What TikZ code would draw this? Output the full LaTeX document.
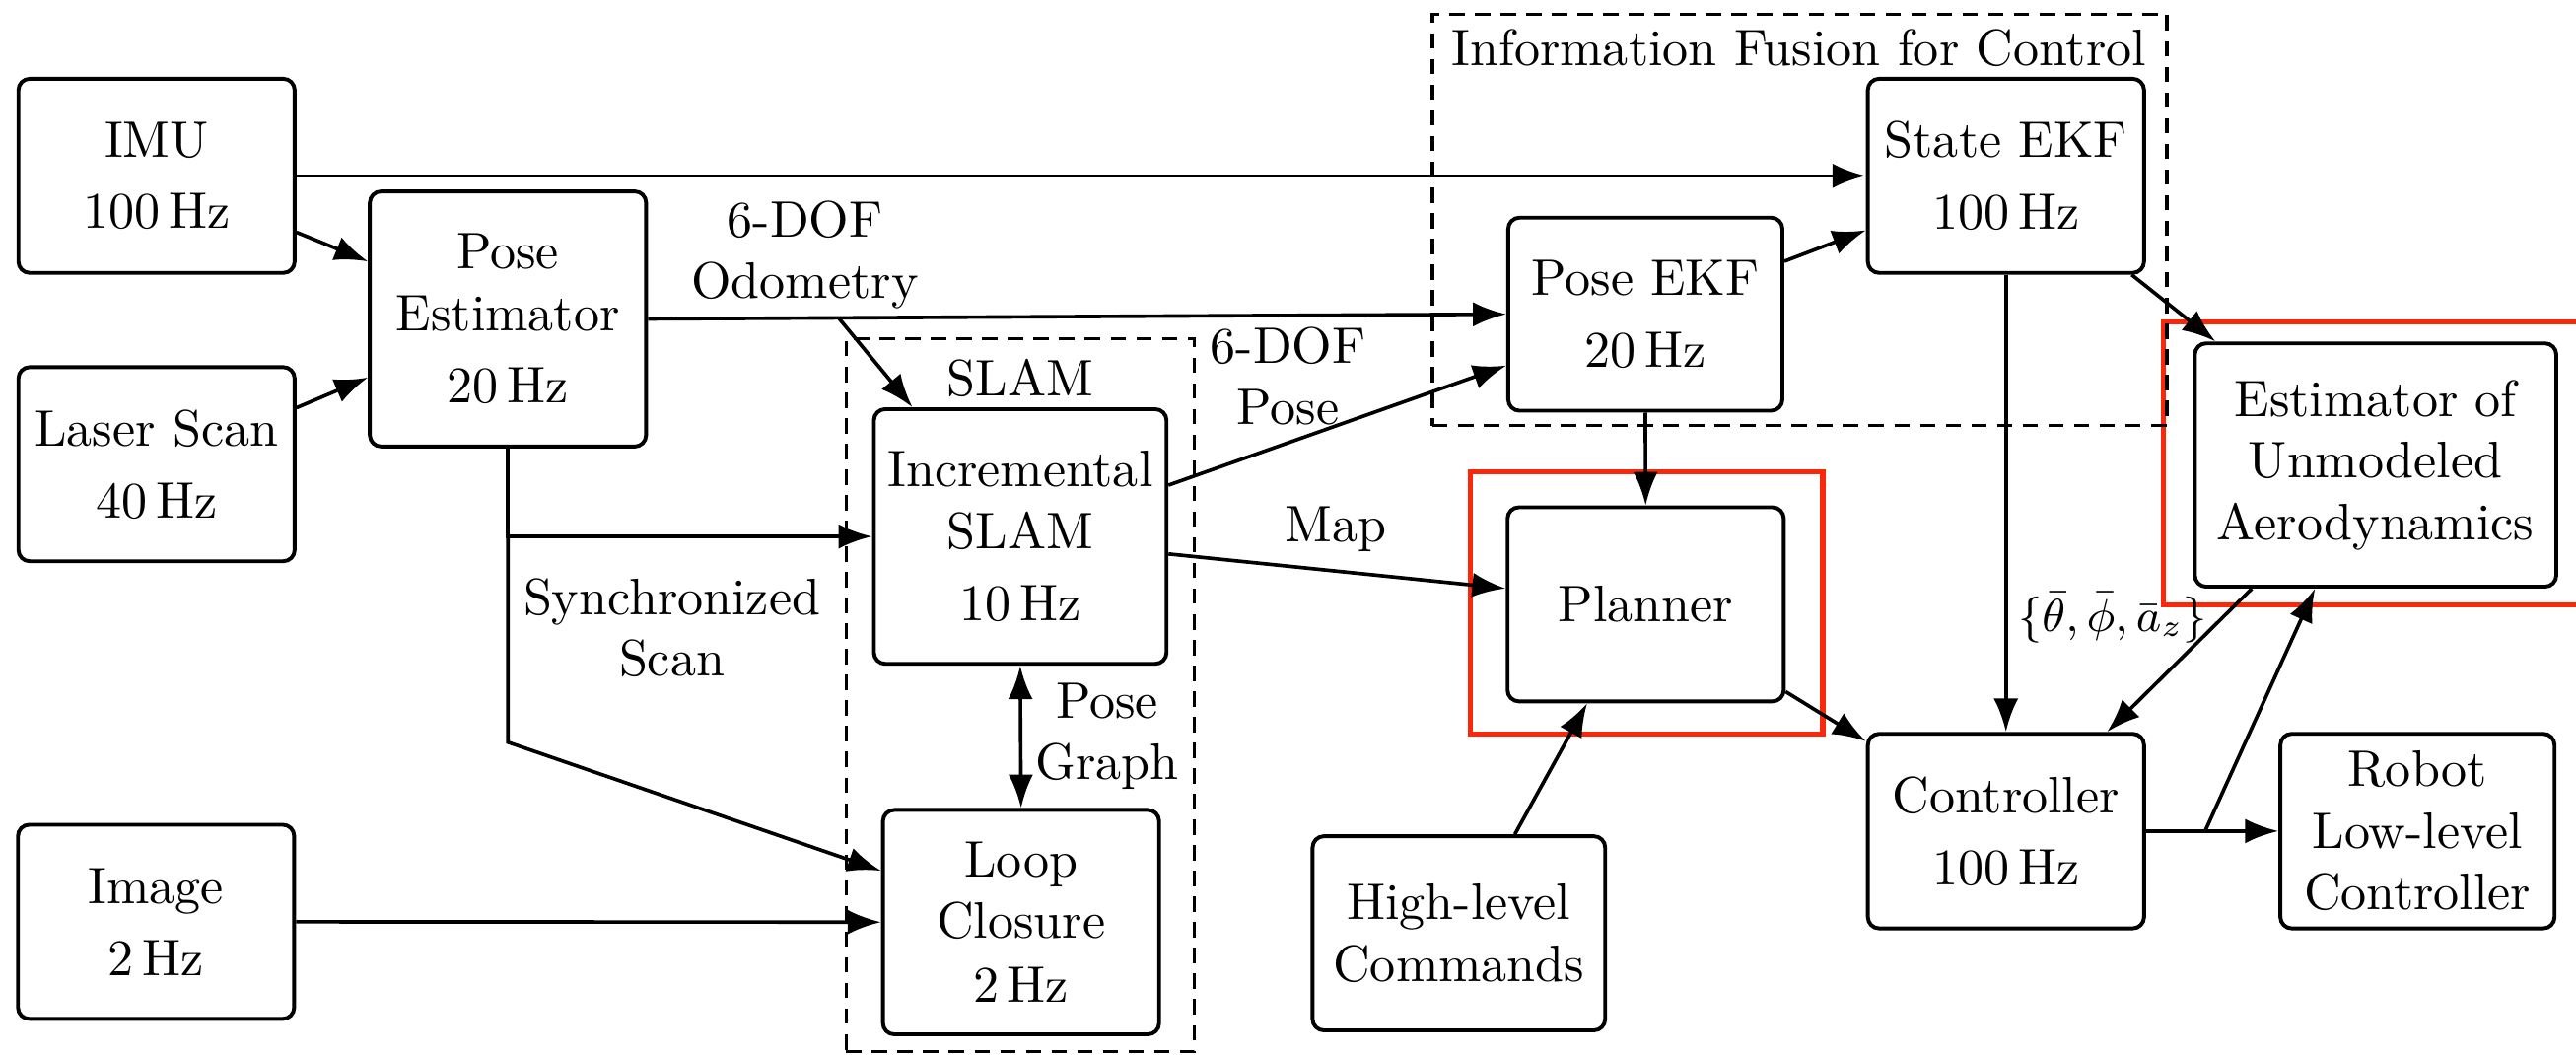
\documentclass[tikz,border=0pt]{standalone}
\usetikzlibrary{arrows.meta,calc}
\definecolor{hilite}{RGB}{250,40,10}
\begin{document}
\begin{tikzpicture}[x=0.32pt,y=-0.32pt,
  block/.style={draw, line width=0.75pt, rounded corners=2.2pt, align=center,
    minimum width=53.8pt, minimum height=37.8pt, inner sep=2pt},
  conn/.style={line width=0.7pt, -{Latex[length=6.5pt,width=4.8pt]}},
  biconn/.style={line width=0.7pt, {Latex[length=6.5pt,width=4.8pt]}-{Latex[length=6.5pt,width=4.8pt]}},
  groupbox/.style={draw, line width=0.65pt, dash pattern=on 3pt off 2pt,
    inner sep=0pt, minimum width=#1},
  hl/.style={draw=hilite, line width=1pt},
  lbl/.style={align=center, inner sep=1pt}
]
\useasboundingbox (0,0) rectangle (1568,642);

% highlight frames
\draw[hl] (895,287) rectangle (1109.5,446.6);
\draw[hl] (1317,196) rectangle (1590,368);

% dashed groups
\node[groupbox=67.8pt, minimum height=138.9pt] (slamgrp) at (621,423) {};
\node[groupbox=143.1pt, minimum height=80.1pt] (fusiongrp) at (1095.4,133.8) {};
\node (slamlbl) at (621,230) {SLAM};
\node (fusionlbl) at (1095,29) {Information Fusion for Control};

% blocks
\node[block] (imu) at (95.3,107) {IMU\\[2pt]100\,Hz};
\node[block] (laser) at (95.3,282.5) {Laser Scan\\[2pt]40\,Hz};
\node[block] (image) at (95,561) {Image\\[2pt]2\,Hz};
\node[block, minimum height=49.7pt] (pose) at (309.2,194.1) {Pose\\Estimator\\[2pt]20\,Hz};
\node[block, minimum width=57pt, minimum height=49.6pt] (islam) at (621,326.5) {Incremental\\SLAM\\[2pt]10\,Hz};
\node[block, minimum height=43.7pt] (loop) at (621.5,561.2) {Loop\\Closure\\[0.5pt]2\,Hz};
\node[block, minimum width=53.4pt, minimum height=37.6pt] (pekf) at (1001.5,191.2) {Pose EKF\\[2pt]20\,Hz};
\node[block] (sekf) at (1221,107) {State EKF\\[2pt]100\,Hz};
\node[block] (planner) at (1001.7,367.8) {Planner};
\node[block, minimum width=57pt] (hlc) at (888,568) {High-level\\Commands};
\node[block, minimum height=37.9pt] (ctrl) at (1221,505.8) {Controller\\[2pt]100\,Hz};
\node[block, minimum width=53.4pt, minimum height=37.9pt] (robot) at (1471.5,505.8) {Robot\\Low-level\\Controller};
\node[block, minimum width=70.4pt, minimum height=47.4pt] (est) at (1446,283) {Estimator of\\Unmodeled\\Aerodynamics};

% connectors
\draw[conn] (imu.east) -- (sekf.west);
\draw[conn] ([yshift=-11pt]imu.east) -- ([yshift=11.2pt]pose.west);
\draw[conn] ([yshift=11pt]laser.east) -- ([yshift=-11.4pt]pose.west);

\draw[conn] (pose.east) -- (pekf.west);
\coordinate (odo) at ($(pose.east)!0.222!(pekf.west)$);
\draw[conn] (odo) -- ([xshift=-21pt]islam.north);
\node[lbl] (odolbl) at (490,155) {6-DOF\\Odometry};

\draw[conn] (pose.south) |- (islam.west);
\coordinate (sync) at (pose.south |- islam.west);
\coordinate (bend) at ($(pose.south)+(0,178.8)$);
\draw[conn] (sync) -- (bend) -- ([yshift=10pt]loop.west);
\node[lbl] (synclbl) at (409,382) {Synchronized\\Scan};

\draw[conn] (image.east) -- (loop.west);
\draw[biconn] (islam.south) -- (loop.north);
\node[lbl] (graphlbl) at (674,448) {Pose\\Graph};

\draw[conn] ([yshift=10pt]islam.east) -- ([yshift=-10pt]pekf.west);
\node[lbl] (poselbl) at (784,229) {6-DOF\\Pose};
\draw[conn] ([yshift=-3.4pt]islam.east) -- ([yshift=3.1pt]planner.west);
\node[lbl] (maplbl) at (813,322) {Map};

\draw[conn] (pekf.south) -- (planner.north);
\draw[conn] ([yshift=10.3pt]pekf.east) -- ([yshift=-10.6pt]sekf.west);

\draw[conn] (sekf.south) -- (ctrl.north);
\node[lbl, font=\small] (statelbl) at (1286,376) {$\{\bar\theta,\bar\phi,\bar a_z\}$};
\draw[conn] ([xshift=24.5pt]sekf.south) -- ([xshift=-31.2pt]est.north);

\draw[conn] ([yshift=-17pt]planner.east) -- ([yshift=17.5pt]ctrl.west);
\draw[conn] ([xshift=10.9pt]hlc.north) -- ([xshift=-11.4pt]planner.south);
\draw[conn] ([xshift=-24.1pt]est.south) -- ([xshift=19.7pt]ctrl.north);

\draw[conn] (ctrl.east) -- (robot.west);
\coordinate (fb) at ($(ctrl.east)!0.446!(robot.west)$);
\draw[conn] (fb) -- ([xshift=-11.8pt]est.south);
\end{tikzpicture}
\end{document}
